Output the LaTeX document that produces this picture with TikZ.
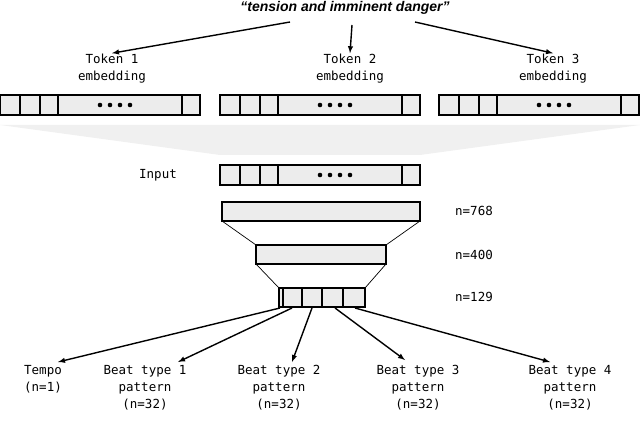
\documentclass[tikz,border=0pt]{standalone}
\usepackage{fontspec}
\setmainfont{Liberation Sans}
\setmonofont{DejaVu Sans Mono}
\begin{document}
\begin{tikzpicture}[x=1pt,y=-1pt,
  lbl/.style={font=\ttfamily\fontsize{12.5}{17}\selectfont,align=center,inner sep=1pt},
  cell/.style={draw=black,line width=1.3pt,fill=gray!15},
  arr/.style={-latex,line width=1.4pt}]
\useasboundingbox (0,0) rectangle (640,422);
\newcommand{\tokbar}[2]{%
  \draw[cell] (#1,#2) rectangle ++(200,20);
  \foreach \d in {20,40,58,182} \draw[line width=1.3pt] (#1+\d,#2) -- ++(0,20);
  \foreach \d in {100,110,120,130} \fill (#1+\d,#2+10) circle (2.3);}
\node[font=\itshape\bfseries\fontsize{14}{16}\selectfont] (q) at (345,8) {``tension and imminent danger''};
\node[lbl] (t1) at (112,69) {Token 1\\embedding};
\node[lbl] (t2) at (350,69) {Token 2\\embedding};
\node[lbl] (t3) at (553,69) {Token 3\\embedding};
\draw[arr] (290,22) -- (t1.north);
\draw[arr] (352,25) -- (t2.north);
\draw[arr] (415,22) -- (t3.north);
\tokbar{0}{95}\tokbar{220}{95}\tokbar{439}{95}
\fill[gray!12] (0,125) -- (640,125) -- (420,155) -- (220,155) -- cycle;
\tokbar{220}{165}
\node[lbl] (in) at (158,175) {Input};
\draw[cell] (222,202) rectangle (420,221);
\draw[line width=0.7pt] (222,221) -- (256,245) (420,221) -- (386,245);
\draw[cell] (256,245) rectangle (386,264);
\draw[line width=0.7pt] (256,264) -- (279,288) (386,264) -- (365,288);
\draw[cell] (279,288) rectangle (365,307);
\foreach \d in {283,302,322,343} \draw[line width=1.3pt] (\d,288) -- (\d,307);
\node[lbl] (n1) at (474,211) {n=768};
\node[lbl] (n2) at (474,255) {n=400};
\node[lbl] (n3) at (474,297) {n=129};
\node[lbl,anchor=north] (a) at (43,364) {Tempo\\(n=1)};
\node[lbl,anchor=north] (b) at (145,364) {Beat type 1\\pattern\\(n=32)};
\node[lbl,anchor=north] (c) at (279,364) {Beat type 2\\pattern\\(n=32)};
\node[lbl,anchor=north] (d) at (418,364) {Beat type 3\\pattern\\(n=32)};
\node[lbl,anchor=north] (e) at (570,364) {Beat type 4\\pattern\\(n=32)};
\draw[arr] (280,308) -- (58,362);
\draw[arr] (292,308) -- (178,362);
\draw[arr] (312,308) -- (292,362);
\draw[arr] (335,308) -- (405,360);
\draw[arr] (355,308) -- (550,362);
\end{tikzpicture}
\end{document}
